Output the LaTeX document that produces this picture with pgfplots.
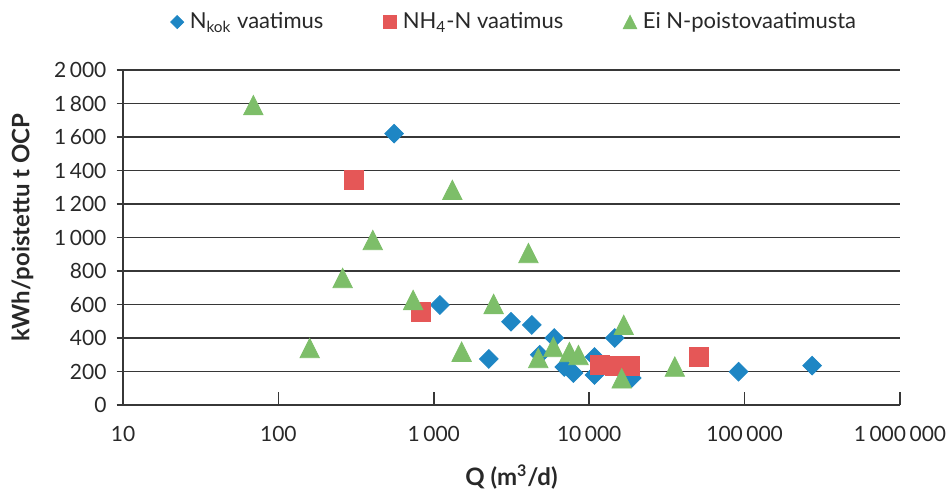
\documentclass[border=0pt]{standalone}
\usepackage{pgfplots}
\pgfplotsset{compat=1.18}
\usepackage{fontspec}
\setmainfont{Lato}

\definecolor{nkok}{RGB}{30,134,196}
\definecolor{nh4}{RGB}{229,87,87}
\definecolor{einp}{RGB}{125,190,105}
\definecolor{gridc}{RGB}{55,55,55}
\definecolor{txt}{RGB}{40,40,40}

% Energy use per removed tonne of oxygen demand vs. plant flow
\pgfplotstableread{
Q       E
555     1620
1094    597
2260    275
3140    497
4273    478
4800    300
5960    400
6920    227
7910    191
10820   287
10820   179
14590   400
18790   161
91400   199
272000  235
}\nkok

\pgfplotstableread{
Q       E
306     1343
828     557
11720   239
14650   233
18330   233
50800   288
}\nhfour

\pgfplotstableread{
Q       E
69      1790
159     340
259     758
405     985
736     627
1316    1284
1510    318
2427    603
4064    907
4700    280
5880    346
7460    316
8530    298
16680   478
16190   159
35560   229
}\eip

\begin{document}
\begin{tikzpicture}
\useasboundingbox (-61.5pt,-44pt) rectangle (412pt,202.5pt);
\begin{axis}[
  scale only axis, width=388.5pt, height=167.5pt,
  xmode=log, xmin=10, xmax=1000000,
  ymin=0, ymax=2000,
  axis x line*=bottom, axis y line*=left,
  axis line style={gridc, line width=0.75pt},
  ytick={0,200,...,2000},
  xtick={10,100,1000,10000,100000,1000000},
  xticklabels={10,100,1\,000,10\,000,100\,000,1\,000\,000},
  xminorticks=false,
  /pgf/number format/1000 sep={\,},
  /pgf/number format/assume math mode=true,
  ymajorgrids, grid style={gridc, line width=0.75pt},
  tick align=center, major tick length=6.5pt,
  tick style={gridc, line width=0.75pt},
  xtick style={yshift=3.25pt},
  every tick label/.append style={font=\fontsize{10.5}{12}\selectfont, text=txt},
  xticklabel style={yshift=-4pt},
  yticklabel style={xshift=-1.5pt},
  xlabel={\textbf{Q (m\textsuperscript{3}/d)}},
  ylabel={\textbf{kWh/poistettu t OCP}},
  label style={font=\fontsize{12}{14}\selectfont, text=txt},
  xlabel style={at={(axis description cs:0.5,-0.215)}, anchor=center},
  ylabel style={at={(axis description cs:-0.1294,0.53)}, anchor=center},
  clip=false,
  legend columns=3,
  legend image post style={scale=0.7},
  legend style={at={(0.505,1.143)}, anchor=center, draw=none,
    font=\fontsize{11}{13}\selectfont, text=txt,
    /tikz/every odd column/.append style={column sep=1pt},
    /tikz/every even column/.append style={column sep=28pt}},
]
\addplot[only marks, mark=square*, mark size=3.3pt,
  mark options={rotate=45, fill=nkok, draw=nkok}] table[x=Q, y=E] {\nkok};
\addlegendentry{N\textsubscript{kok} vaatimus}
\addplot[only marks, mark=square*, mark size=4.8pt,
  mark options={fill=nh4, draw=nh4}] table[x=Q, y=E] {\nhfour};
\addlegendentry{NH\textsubscript{4}-N vaatimus}
\addplot[only marks, mark=triangle*, mark size=5.6pt,
  mark options={yshift=-1.6pt, yscale=1.15, fill=einp, draw=einp}] table[x=Q, y=E] {\eip};
\addlegendentry{Ei N-poistovaatimusta}
\end{axis}
\end{tikzpicture}
\end{document}
